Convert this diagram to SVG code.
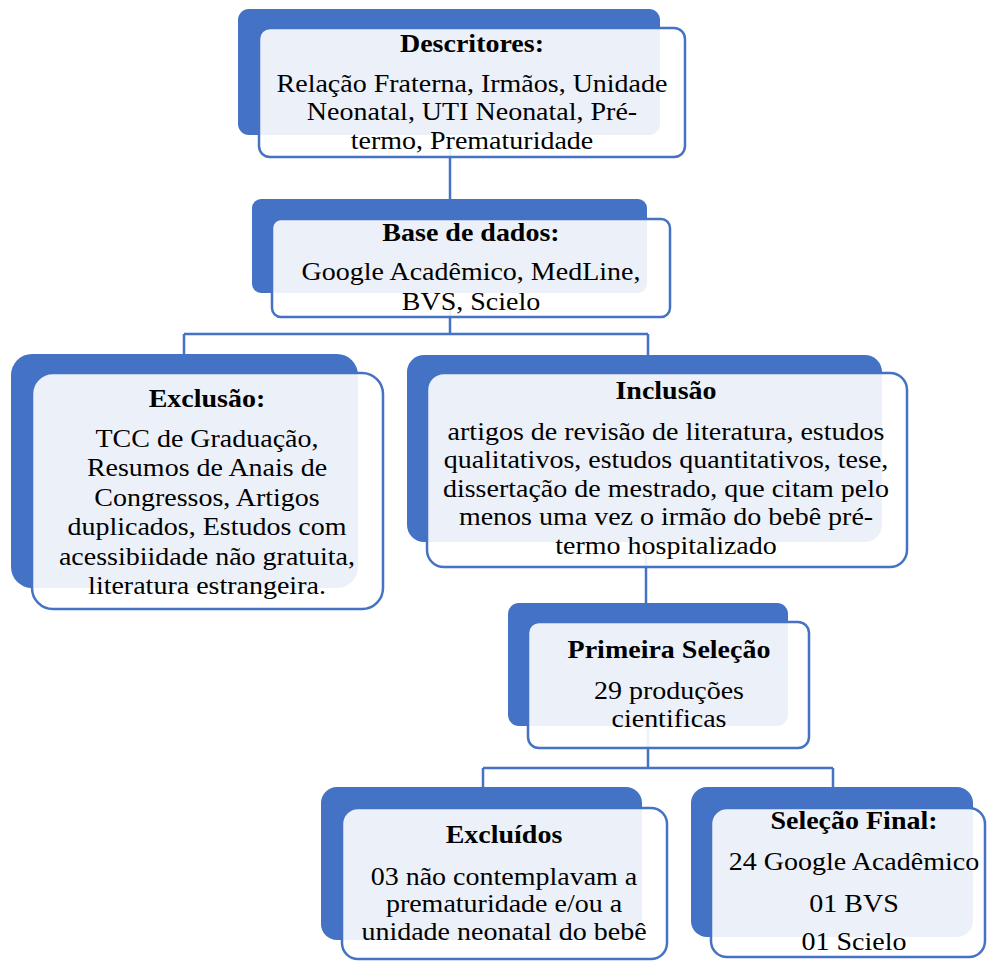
<svg xmlns="http://www.w3.org/2000/svg" width="987" height="961" viewBox="0 0 987 961">
<style>
.back{fill:#4472c4;}
.front{fill:#ffffff;fill-opacity:0.9;stroke:#4472c4;stroke-width:2.5;}
.conn{fill:none;stroke:#4472c4;stroke-width:2.5;}
.t{font-family:"Liberation Serif","Times New Roman",serif;font-size:25px;fill:#000;text-anchor:middle;}
.b{font-weight:bold;}
</style>
<rect width="987" height="961" fill="#ffffff"/>
<g id="connectors">
<path class="conn" d="M450 150 V200"/>
<path class="conn" d="M450 300 V334 M184 334 H648 M184 334 V355 M648 334 V355"/>
<path class="conn" d="M646 545 V605"/>
<path class="conn" d="M648 700 V768 M483 768 H833 M483 768 V790 M833 768 V790"/>
</g>
<g id="descritores">
<rect class="back" x="238" y="9" width="422" height="126" rx="11"/>
<rect class="front" x="259" y="28" width="426" height="129" rx="11"/>
<text class="t" transform="translate(472 0) scale(1.12 1)"><tspan class="b" x="0" y="52">Descritores:</tspan><tspan x="0" y="92">Relação Fraterna, Irmãos, Unidade</tspan><tspan x="0" y="120.5">Neonatal, UTI Neonatal, Pré-</tspan><tspan x="0" y="149">termo, Prematuridade</tspan></text>
</g>
<g id="base">
<rect class="back" x="252" y="199" width="395" height="94" rx="9"/>
<rect class="front" x="272" y="219" width="398" height="98" rx="9"/>
<text class="t" transform="translate(471 0) scale(1.12 1)"><tspan class="b" x="0" y="241">Base de dados:</tspan><tspan x="0" y="280">Google Acadêmico, MedLine,</tspan><tspan x="0" y="310">BVS, Scielo</tspan></text>
</g>
<g id="exclusao">
<rect class="back" x="11" y="354" width="347" height="234" rx="21"/>
<rect class="front" x="32" y="373" width="351" height="236" rx="21"/>
<text class="t" transform="translate(207 0) scale(1.12 1)"><tspan class="b" x="0" y="407">Exclusão:</tspan><tspan x="0" y="447">TCC de Graduação,</tspan><tspan x="0" y="476.5">Resumos de Anais de</tspan><tspan x="0" y="506">Congressos, Artigos</tspan><tspan x="0" y="535.5">duplicados, Estudos com</tspan><tspan x="0" y="565">acessibiidade não gratuita,</tspan><tspan x="0" y="594">literatura estrangeira.</tspan></text>
</g>
<g id="inclusao">
<rect class="back" x="407" y="355" width="475" height="187" rx="17"/>
<rect class="front" x="427" y="373" width="480" height="194" rx="17"/>
<text class="t" transform="translate(666 0) scale(1.12 1)"><tspan class="b" x="0" y="399">Inclusão</tspan><tspan x="0" y="440">artigos de revisão de literatura, estudos</tspan><tspan x="0" y="468.5">qualitativos, estudos quantitativos, tese,</tspan><tspan x="0" y="497">dissertação de mestrado, que citam pelo</tspan><tspan x="0" y="525.5">menos uma vez o irmão do bebê pré-</tspan><tspan x="0" y="554">termo hospitalizado</tspan></text>
</g>
<g id="primeira">
<rect class="back" x="508" y="603" width="280" height="123" rx="11"/>
<rect class="front" x="528" y="622" width="281" height="126" rx="11"/>
<text class="t" transform="translate(669 0) scale(1.12 1)"><tspan class="b" x="0" y="658">Primeira Seleção</tspan><tspan x="0" y="699">29 produções</tspan><tspan x="0" y="727">cientificas</tspan></text>
</g>
<g id="excluidos">
<rect class="back" x="321" y="787" width="321" height="153" rx="16"/>
<rect class="front" x="342" y="808" width="325" height="151" rx="16"/>
<text class="t" transform="translate(504 0) scale(1.12 1)"><tspan class="b" x="0" y="843">Excluídos</tspan><tspan x="0" y="885">03 não contemplavam a</tspan><tspan x="0" y="912.5">prematuridade e/ou a</tspan><tspan x="0" y="940">unidade neonatal do bebê</tspan></text>
</g>
<g id="selecao-final">
<rect class="back" x="691" y="787" width="282" height="150" rx="16"/>
<rect class="front" x="711" y="808" width="274" height="149" rx="16"/>
<text class="t" transform="translate(854 0) scale(1.12 1)"><tspan class="b" x="0" y="829">Seleção Final:</tspan><tspan x="0" y="870">24 Google Acadêmico</tspan><tspan x="0" y="912">01 BVS</tspan><tspan x="0" y="950">01 Scielo</tspan></text>
</g>
</svg>
